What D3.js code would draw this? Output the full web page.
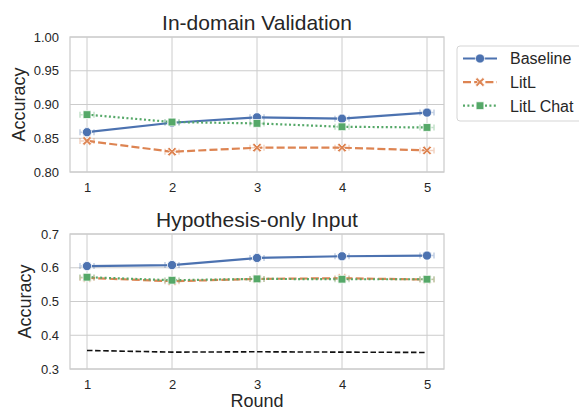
<!DOCTYPE html>
<html><head><meta charset="utf-8">
<script src="https://cdnjs.cloudflare.com/ajax/libs/d3/7.8.5/d3.min.js"></script>
<style>body{margin:0;background:#fff;} text{font-family:"Liberation Sans",Arial,sans-serif;fill:#262626;}</style>
</head><body><svg id="c" width="579" height="412"></svg>
<script>
const rounds = [1, 2, 3, 4, 5];
const seriesNames = ["Baseline", "LitL", "LitL Chat"];
const topBaseline = [0.859, 0.873, 0.881, 0.879, 0.888];
const topLitL = [0.846, 0.830, 0.836, 0.836, 0.832];
const topChat = [0.885, 0.874, 0.872, 0.867, 0.866];
const botBaseline = [0.605, 0.608, 0.629, 0.634, 0.636];
const botLitL = [0.570, 0.560, 0.567, 0.569, 0.565];
const botChat = [0.572, 0.563, 0.567, 0.566, 0.566];
const botChance = [0.355, 0.350, 0.351, 0.350, 0.349];
const topTicks = [0.80, 0.85, 0.90, 0.95, 1.00];
const botTicks = [0.3, 0.4, 0.5, 0.6, 0.7];

const colors = ["#4c72b0", "#dd8452", "#55a868"];
const dashes = [null, "8,3.2", "2,2.4"];
const shapes = ["circle", "x", "square"];

const svg = d3.select("#c");
const L = 70, R = 444;
const x = d3.scaleLinear().domain([0.8, 5.2]).range([L, R]);

function markerPath(shape, s) {
  if (shape === "circle") return d3.symbol(d3.symbolCircle, Math.PI * s * s)();
  if (shape === "square") { const h = s * 0.85; return `M${-h},${-h}H${h}V${h}H${-h}Z`; }
  const a = s * 1.0, w = s * 0.38;
  const pts = [[0,-w],[a-w,-a],[a,-a+w],[w,0],[a,a-w],[a-w,a],[0,w],[-a+w,a],[-a,a-w],[-w,0],[-a,-a+w],[-a+w,-a]];
  return "M" + pts.map(p => p.join(",")).join("L") + "Z";
}

function panel(top, bottom, domain, ticks, fmt, title, titleY, ylabX, data, chance) {
  const y = d3.scaleLinear().domain(domain).range([bottom, top]);
  const g = svg.append("g");
  g.selectAll(".gy").data(ticks).join("line")
    .attr("x1", L).attr("x2", R).attr("y1", d => y(d)).attr("y2", d => y(d))
    .attr("stroke", "#cccccc").attr("stroke-width", 1);
  g.selectAll(".gx").data(rounds).join("line")
    .attr("x1", d => x(d)).attr("x2", d => x(d)).attr("y1", top).attr("y2", bottom)
    .attr("stroke", "#cccccc").attr("stroke-width", 1);
  g.append("rect").attr("x", L).attr("y", top).attr("width", R - L).attr("height", bottom - top)
    .attr("fill", "none").attr("stroke", "#cccccc").attr("stroke-width", 1.25);
  const ya = d3.axisLeft(y).tickValues(ticks).tickFormat(d3.format(fmt)).tickSize(0).tickPadding(11);
  const yg = g.append("g").attr("transform", `translate(${L},0)`).call(ya);
  yg.select(".domain").remove();
  yg.selectAll("text").style("font-size", "13px").attr("fill", "#262626");
  const xa = d3.axisBottom(x).tickValues(rounds).tickFormat(d3.format("d")).tickSize(0).tickPadding(11);
  const xg = g.append("g").attr("transform", `translate(0,${bottom})`).call(xa);
  xg.select(".domain").remove();
  xg.selectAll("text").style("font-size", "13px").attr("fill", "#262626");
  g.append("text").attr("x", (L + R) / 2).attr("y", titleY).attr("text-anchor", "middle")
    .style("font-size", "21px").text(title);
  g.append("text").attr("transform", `translate(${ylabX},${(top + bottom) / 2}) rotate(-90)`)
    .attr("text-anchor", "middle").style("font-size", "18px").text("Accuracy");
  if (chance) {
    g.append("path").datum(chance)
      .attr("d", d3.line().x((d, i) => x(rounds[i])).y(d => y(d)))
      .attr("fill", "none").attr("stroke", "#111").attr("stroke-width", 1.6).attr("stroke-dasharray", "5.5,2.6");
  }
  data.forEach((vals, si) => {
    const line = d3.line().x((d, i) => x(rounds[i])).y(d => y(d));
    g.append("path").datum(vals).attr("d", line).attr("fill", "none")
      .attr("stroke", colors[si]).attr("stroke-width", 2.2)
      .attr("stroke-dasharray", dashes[si]);
  });
  data.forEach((vals, si) => {
    vals.forEach((v, i) => {
      const cx = x(rounds[i]), cy = y(v);
      g.append("path").attr("d", `M${cx - 7},${cy - 3}V${cy + 3}M${cx - 7},${cy}H${cx + 7}M${cx + 7},${cy - 3}V${cy + 3}`)
        .attr("fill", "none").attr("stroke", colors[si]).attr("stroke-opacity", 0.35).attr("stroke-width", 1.5);
    });
    g.selectAll(null).data(vals).join("path")
      .attr("transform", (d, i) => `translate(${x(rounds[i])},${y(d)})`)
      .attr("d", markerPath(shapes[si], 4.6))
      .attr("fill", colors[si]).attr("stroke", "#fff").attr("stroke-width", 0.8);
  });
}

panel(37, 172, [0.80, 1.00], topTicks, ".2f", "In-domain Validation", 30, 25,
  [topBaseline, topLitL, topChat], null);
panel(234, 369, [0.3, 0.7], botTicks, ".1f", "Hypothesis-only Input", 227, 31,
  [botBaseline, botLitL, botChat], botChance);

svg.append("text").attr("x", (L + R) / 2).attr("y", 407).attr("text-anchor", "middle")
  .style("font-size", "18px").text("Round");

const lg = svg.append("g");
lg.append("rect").attr("x", 457).attr("y", 46).attr("width", 140).attr("height", 75)
  .attr("rx", 3).attr("fill", "#fff").attr("stroke", "#d5d5d5").attr("stroke-width", 1);
seriesNames.forEach((n, i) => {
  const cy = 58.5 + i * 23.6;
  lg.append("line").attr("x1", 463).attr("x2", 497).attr("y1", cy).attr("y2", cy)
    .attr("stroke", colors[i]).attr("stroke-width", 2.2).attr("stroke-dasharray", dashes[i]);
  lg.append("path").attr("transform", `translate(480,${cy})`).attr("d", markerPath(shapes[i], 4.6))
    .attr("fill", colors[i]).attr("stroke", "#fff").attr("stroke-width", 0.8);
  lg.append("text").attr("x", 510).attr("y", cy + 5.8).style("font-size", "16px").text(n);
});
</script></body></html>
